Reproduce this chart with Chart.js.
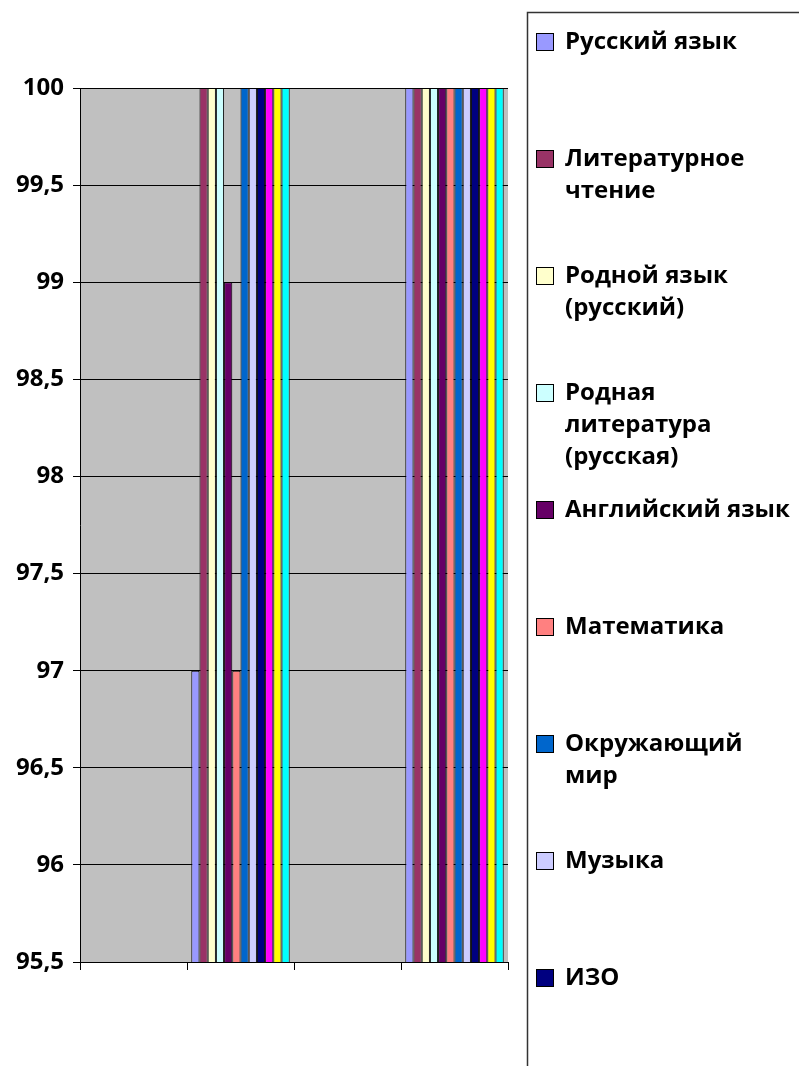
<!DOCTYPE html>
<html>
<head>
<meta charset="utf-8">
<script src="https://cdn.jsdelivr.net/npm/chart.js@4"></script>
<style>
  html, body { margin: 0; padding: 0; background: #fff; }
  #wrap { width: 799px; height: 1066px; position: relative; }
</style>
</head>
<body>
<div id="wrap"><canvas id="grafico" width="799" height="1066"></canvas></div>
<script>
// categorias (sem rótulos no original)
var categorias = ["", "", "", ""];

var disciplinas = [
  "Русский язык",
  "Литературное чтение",
  "Родной язык (русский)",
  "Родная литература (русская)",
  "Английский язык",
  "Математика",
  "Окружающий мир",
  "Музыка",
  "ИЗО",
  "Технология",
  "Физическая культура",
  "ОРКСЭ",
];

// valores por disciplina, um por categoria
var russkij = [null, 97, null, 100];
var literatura = [null, 100, null, 100];
var rodnoj = [null, 100, null, 100];
var rodnaja_lit = [null, 100, null, 100];
var anglijskij = [null, 99, null, 100];
var matematika = [null, 97, null, 100];
var okruzh = [null, 100, null, 100];
var muzyka = [null, 100, null, 100];
var izo = [null, 100, null, 100];
var tehnologija = [null, 100, null, 100];
var fizkultura = [null, 100, null, 100];
var orkse = [null, 100, null, 100];

var valores = [russkij, literatura, rodnoj, rodnaja_lit, anglijskij, matematika,
  okruzh, muzyka, izo, tehnologija, fizkultura, orkse];

var cores = ["#9999FF", "#993366", "#FFFFCC", "#CCFFFF", "#660066", "#FF8080",
  "#0066CC", "#CCCCFF", "#000080", "#FF00FF", "#FFFF00", "#00FFFF"];

var eixoY = { min: 95.5, max: 100, passo: 0.5 };

var fonte = "'Open Sans', 'DejaVu Sans', sans-serif";

var datasets = [];
for (var i = 0; i < disciplinas.length; i++) {
  datasets.push({
    label: disciplinas[i],
    data: valores[i],
    backgroundColor: cores[i],
    borderColor: "#000",
    borderWidth: 1,
    borderSkipped: "bottom",
  });
}

var fundo = {
  id: "fundo",
  beforeDraw: function (chart) {
    var a = chart.chartArea;
    var c = chart.ctx;
    c.save();
    c.fillStyle = "#C0C0C0";
    c.fillRect(a.left, a.top, a.right - a.left, a.bottom - a.top);
    c.restore();
  },
};

function quebrar(c, texto, largura) {
  var palavras = texto.split(" ");
  var linhas = [];
  var atual = "";
  for (var i = 0; i < palavras.length; i++) {
    var teste = atual ? atual + " " + palavras[i] : palavras[i];
    if (atual && c.measureText(teste).width > largura) {
      linhas.push(atual);
      atual = palavras[i];
    } else {
      atual = teste;
    }
  }
  if (atual) linhas.push(atual);
  return linhas;
}

var legenda = {
  id: "legenda",
  afterDraw: function (chart) {
    var c = chart.ctx;
    c.save();
    // moldura
    c.strokeStyle = "#333";
    c.lineWidth = 1.5;
    c.beginPath();
    c.moveTo(800, 12.5);
    c.lineTo(527.5, 12.5);
    c.lineTo(527.5, 1070);
    c.stroke();

    c.font = "bold 24px " + fonte;
    c.textBaseline = "middle";
    chart.data.datasets.forEach(function (ds, i) {
      var y = 42 + i * 117;
      c.fillStyle = ds.backgroundColor;
      c.fillRect(536.5, y - 8.5, 17, 17);
      c.strokeStyle = "#000";
      c.lineWidth = 1;
      c.strokeRect(536.5, y - 8.5, 17, 17);
      c.fillStyle = "#000";
      var linhas = quebrar(c, ds.label, 230);
      for (var k = 0; k < linhas.length; k++) {
        c.fillText(linhas[k], 565, y + k * 32);
      }
    });
    c.restore();
  },
};

var ctx = document.getElementById("grafico");
var grafico = new Chart(ctx, {
  type: "bar",
  data: {
    labels: categorias,
    datasets: datasets,
  },
  options: {
    responsive: false,
    animation: false,
    layout: {
      padding: { top: 88, right: 291, bottom: 94, left: 0 },
    },
    datasets: {
      bar: {
        categoryPercentage: 0.92,
        barPercentage: 1,
      },
    },
    plugins: {
      legend: { display: false },
      tooltip: { enabled: false },
    },
    scales: {
      x: {
        afterFit: function (s) { s.height = 10; },
        grid: {
          offset: true,
          drawOnChartArea: false,
          color: "#000",
          tickLength: 8,
        },
        border: { color: "#000", width: 1 },
        ticks: { display: false },
      },
      y: {
        min: eixoY.min,
        max: eixoY.max,
        afterFit: function (s) { s.width = 80; },
        grid: {
          color: "#000",
          tickLength: 7,
        },
        border: { color: "#000", width: 1 },
        ticks: {
          stepSize: eixoY.passo,
          padding: 9,
          color: "#000",
          font: { family: fonte, size: 24, weight: "bold" },
          callback: function (v) {
            return String(v).replace(".", ",");
          },
        },
      },
    },
  },
  plugins: [fundo, legenda],
});
</script>
</body>
</html>
